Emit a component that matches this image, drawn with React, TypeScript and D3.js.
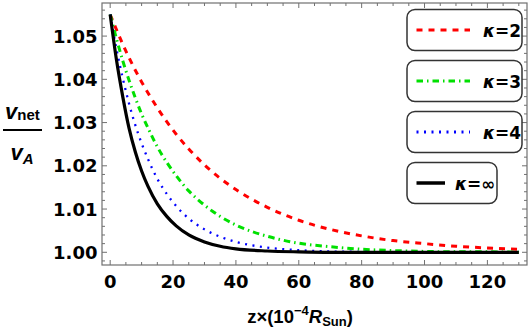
import React from "react";
import * as d3 from "d3";

// z positions (units of 1e-4 R_Sun) where the curves were read
const zs = [0, 2, 4, 6, 8, 10, 12, 15, 18, 21, 25, 30, 35, 40, 50, 60, 70, 80, 90, 100, 110, 120, 130];

// v_net / v_A
const kappa2 = [1.055, 1.0515, 1.0481, 1.045, 1.0421, 1.0394, 1.0369, 1.0334, 1.0302, 1.0273, 1.0239, 1.0202, 1.0171, 1.0145, 1.0104, 1.0074, 1.0053, 1.0038, 1.0027, 1.002, 1.0014, 1.001, 1.0007];
const kappa3 = [1.055, 1.0494, 1.0443, 1.0398, 1.0357, 1.032, 1.0288, 1.0244, 1.0208, 1.0177, 1.0142, 1.0109, 1.0083, 1.0063, 1.0037, 1.0021, 1.0013, 1.0007, 1.0004, 1.0002, 1.0001, 1.0001, 1.0];
const kappa4 = [1.055, 1.047, 1.0403, 1.0344, 1.0294, 1.0252, 1.0216, 1.017, 1.0135, 1.0107, 1.0078, 1.0053, 1.0036, 1.0024, 1.0011, 1.0005, 1.0002, 1.0001, 1.0, 1.0, 1.0, 1.0, 1.0];
const kappaInf = [1.055, 1.0445, 1.036, 1.0287, 1.0232, 1.0188, 1.0153, 1.0112, 1.0083, 1.0061, 1.004, 1.0024, 1.0014, 1.0008, 1.0003, 1.0001, 1.0, 1.0, 1.0, 1.0, 1.0, 1.0, 1.0];

const xTicks = [0, 20, 40, 60, 80, 100, 120];
const yTicks = [1.0, 1.01, 1.02, 1.03, 1.04, 1.05];
const legendLabels = ["2", "3", "4", "\u221e"];

const W = 528, H = 330;
const frame = { left: 102, right: 527, top: 3, bottom: 265 };
const font = "'DejaVu Sans', sans-serif";
const arial = "'Liberation Sans', Arial, sans-serif";

export default function App() {
  const x = d3.scaleLinear().domain([-2.6, 132.6]).range([frame.left, frame.right]);
  const y = d3.scaleLinear().domain([0.99706, 1.05765]).range([frame.bottom, frame.top]);

  const line = (vals: number[]) =>
    d3.line<number>()
      .x((_, i) => x(zs[i]))
      .y((d) => y(d))
      .curve(d3.curveMonotoneX)(vals) || "";

  const series = [
    { vals: kappa2, color: "#ff0000", dash: "6 6", width: 3 },
    { vals: kappa3, color: "#00e000", dash: "6.5 4 1.5 4", width: 3 },
    { vals: kappa4, color: "#0000ff", dash: "2 5.5", width: 2.3 },
    { vals: kappaInf, color: "#000000", dash: "", width: 3.2 },
  ];

  // minor ticks
  const xMinor = d3.range(0, 135, 5).filter((v) => v % 20 !== 0 && x(v) < frame.right);
  const yMinor = d3.range(0.998, 1.0576, 0.002).filter((v) => Math.abs(Math.round(v * 100) - v * 100) > 1e-6);

  const frameCol = "#707070";

  return (
    <svg width={W} height={H} style={{ position: "absolute", left: 0, top: 0, background: "#fff" }} fontFamily={font}>
      <defs>
        <clipPath id="plot">
          <rect x={frame.left} y={frame.top} width={frame.right - frame.left} height={frame.bottom - frame.top} />
        </clipPath>
      </defs>
      <rect x={0} y={0} width={W} height={H} fill="#fff" />

      {/* frame */}
      <rect x={frame.left} y={frame.top} width={frame.right - frame.left} height={frame.bottom - frame.top}
        fill="none" stroke={frameCol} strokeWidth={1.2} />

      {/* x ticks */}
      {xTicks.map((t) => (
        <g key={"xt" + t}>
          <line x1={x(t)} x2={x(t)} y1={frame.bottom} y2={frame.bottom - 5} stroke={frameCol} />
          <line x1={x(t)} x2={x(t)} y1={frame.top} y2={frame.top + 5} stroke={frameCol} />
          <text x={x(t)} y={288} textAnchor="middle" fontSize={18} fontWeight="bold">{t}</text>
        </g>
      ))}
      {xMinor.map((t) => (
        <g key={"xm" + t}>
          <line x1={x(t)} x2={x(t)} y1={frame.bottom} y2={frame.bottom - 3} stroke={frameCol} />
          <line x1={x(t)} x2={x(t)} y1={frame.top} y2={frame.top + 3} stroke={frameCol} />
        </g>
      ))}

      {/* y ticks */}
      {yTicks.map((t) => (
        <g key={"yt" + t}>
          <line x1={frame.left} x2={frame.left + 5} y1={y(t)} y2={y(t)} stroke={frameCol} />
          <line x1={frame.right} x2={frame.right - 5} y1={y(t)} y2={y(t)} stroke={frameCol} />
          <text x={97.5} y={y(t)} dy="0.36em" textAnchor="end" fontSize={18} fontWeight="bold">{t.toFixed(2)}</text>
        </g>
      ))}
      {yMinor.map((t) => (
        <g key={"ym" + t}>
          <line x1={frame.left} x2={frame.left + 3} y1={y(t)} y2={y(t)} stroke={frameCol} />
          <line x1={frame.right} x2={frame.right - 3} y1={y(t)} y2={y(t)} stroke={frameCol} />
        </g>
      ))}

      {/* curves */}
      <g clipPath="url(#plot)">
        {series.map((s, i) => (
          <path key={i} d={line(s.vals)} fill="none" stroke={s.color} strokeWidth={s.width}
            strokeDasharray={s.dash || undefined} />
        ))}
      </g>

      {/* legend */}
      {series.map((s, i) => {
        const top = 9.5 + i * 51;
        const last = i === 3;
        const bw = last ? 90 : 115;
        const cy = top + 20.5;
        return (
          <g key={"lg" + i}>
            <rect x={407} y={top} width={bw} height={41} rx={8} ry={8} fill="#fff" stroke="#333" strokeWidth={1.5} />
            <line x1={416.5} x2={last ? 445 : 470} y1={cy} y2={cy} stroke={s.color} strokeWidth={last ? 3.5 : 3}
              strokeDasharray={s.dash || undefined} />
            <text x={last ? 455 : 483} y={cy + 6.5} fontSize={17} fontWeight="bold">
              <tspan fontStyle="italic">κ</tspan>={legendLabels[i]}
            </text>
          </g>
        );
      })}

      {/* y label */}
      <text x={5} y={119} fontWeight="bold" fontFamily={arial}>
        <tspan fontSize={22} fontStyle="italic">v</tspan>
        <tspan fontSize={15} dy={1}>net</tspan>
      </text>
      <line x1={3} x2={42} y1={130} y2={130} stroke="#000" strokeWidth={2} />
      <text x={10.5} y={160} fontWeight="bold" fontFamily={arial}>
        <tspan fontSize={22} fontStyle="italic">v</tspan>
        <tspan fontSize={15} fontStyle="italic" dy={4}>A</tspan>
      </text>

      {/* x label */}
      <text x={300} y={323} textAnchor="middle" fontWeight="bold" fontSize={18.5} fontFamily={arial}>
        z×(10<tspan fontSize={13} dy={-8}>−4</tspan>
        <tspan fontStyle="italic" dy={8}>R</tspan>
        <tspan fontSize={13} dy={3}>Sun</tspan>
        <tspan dy={-3}>)</tspan>
      </text>
    </svg>
  );
}
